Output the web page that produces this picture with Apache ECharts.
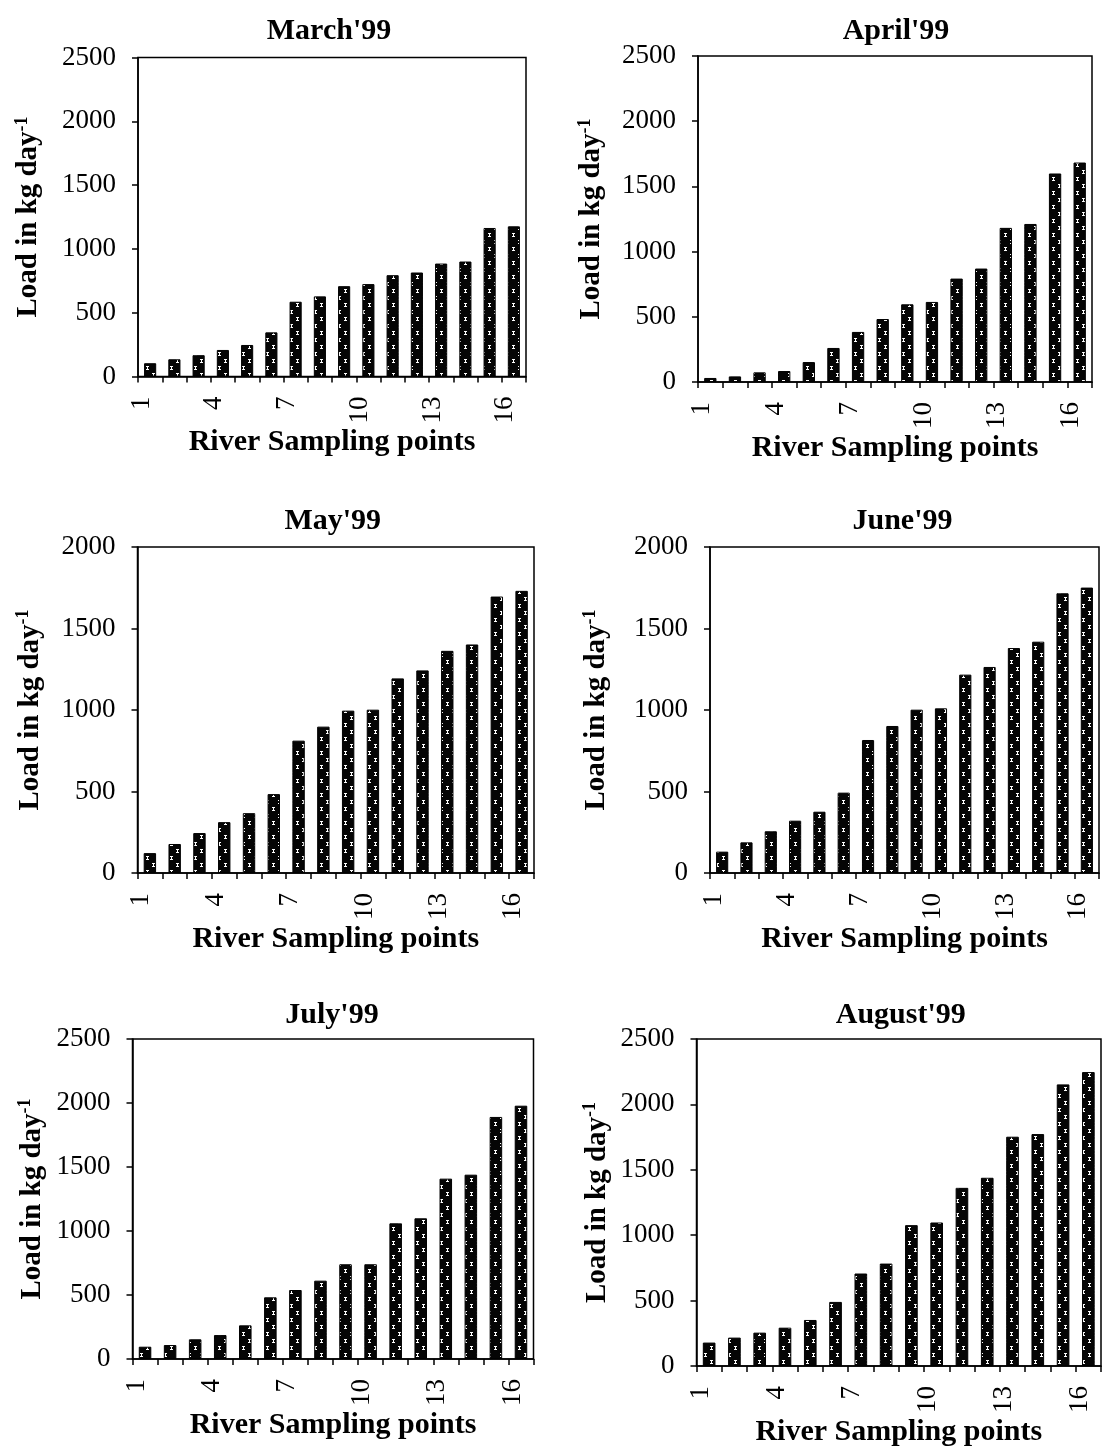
<!DOCTYPE html>
<html><head><meta charset="utf-8">
<script src="https://cdn.jsdelivr.net/npm/echarts@6/dist/echarts.min.js"></script>
<style>html,body{margin:0;padding:0;background:#fff}#c{width:1104px;height:1453px}</style>
</head><body><div id="c"></div>
<script>
// ---- data ----
const categories = ['1','2','3','4','5','6','7','8','9','10','11','12','13','14','15','16'];
const titles = ["March'99","April'99","May'99","June'99","July'99","August'99"];
const march  = [104,135,167,208,247,346,586,628,708,724,794,815,885,901,1164,1177];
const april  = [31,43,74,84,153,261,384,483,596,614,793,870,1182,1212,1599,1683];
const may    = [122,178,245,312,367,484,812,898,996,1002,1194,1243,1363,1402,1696,1731];
const june   = [131,188,256,321,376,493,816,902,1002,1010,1217,1264,1380,1419,1716,1751];
const july   = [96,109,154,187,263,482,539,612,740,740,1060,1099,1409,1440,1891,1979];
const august = [179,217,255,293,352,490,707,783,1077,1097,1362,1439,1753,1773,2153,2247];
const yMax = [2500,2500,2000,2000,2500,2500];
const yInterval = 500;
const xName = 'River Sampling points';
const yNameMain = 'Load in kg day';
const yNameSup = '-1';

// ---- layout ----
const grids = [
  {left:138,   top:57.5, width:388,   height:319},
  {left:698,   top:56,   width:394,   height:326},
  {left:137.5, top:547,  width:396.5, height:326},
  {left:710,   top:547,  width:389,   height:326},
  {left:132.5, top:1039, width:401,   height:320},
  {left:696.5, top:1039, width:404.5, height:327}
];
const titleTop = [11,11,501,501,995,995];
const titleShift = [-8,-4,-8,-7,-6,-3];
const yNameGap = [93,90,91,97,84,83];
const xNameGap = [49,47,46,46,47,46];

const FONT = '"Liberation Serif","Times New Roman",serif';
const seriesData = [march, april, may, june, july, august];

function makePattern(){
  const c = document.createElement('canvas'); c.width = 12; c.height = 14;
  const g = c.getContext('2d');
  g.fillStyle = '#050505'; g.fillRect(0,0,12,14);
  g.fillStyle = '#ffffff';
  g.fillRect(2,2,3,1); g.fillRect(3,2,1,4); g.fillRect(2,5,3,1);
  g.fillRect(8,9,3,1); g.fillRect(9,9,1,4); g.fillRect(8,12,3,1);
  return c;
}
const pattern = makePattern();

const option = {
  animation:false,
  backgroundColor:'#fff',
  title: titles.map((t,i)=>({
    text:t, left: grids[i].left + grids[i].width/2 + titleShift[i], top: titleTop[i], textAlign:'center',
    textStyle:{fontFamily:FONT, fontWeight:'bold', fontSize:30, color:'#000'}
  })),
  grid: grids.map(g=>({left:g.left, top:g.top, width:g.width, height:g.height, show:true,
    borderColor:'#000', borderWidth:1.5, backgroundColor:'transparent', containLabel:false})),
  xAxis: grids.map((g,i)=>({
    type:'category', gridIndex:i, data:categories, boundaryGap:true,
    name:xName, nameLocation:'middle', nameGap:xNameGap[i],
    nameTextStyle:{fontFamily:FONT, fontWeight:'bold', fontSize:30, color:'#000', verticalAlign:'top'},
    axisLine:{lineStyle:{color:'#000', width:1.5}},
    axisTick:{show:true, interval:0, alignWithLabel:false, length:6, lineStyle:{color:'#000', width:1.5}},
    axisLabel:{interval:2, rotate:90, margin:20, fontFamily:FONT, fontSize:27, color:'#000',
      verticalAlign:'bottom', lineHeight:17},
    splitLine:{show:false}
  })),
  yAxis: grids.map((g,i)=>({
    type:'value', gridIndex:i, min:0, max:yMax[i], interval:yInterval,
    name:'{a|'+yNameMain+'}{b|'+yNameSup+'}', nameLocation:'middle', nameGap:yNameGap[i], nameRotate:90,
    nameTextStyle:{rich:{
      a:{fontFamily:FONT, fontWeight:'bold', fontSize:29, color:'#000', lineHeight:32},
      b:{fontFamily:FONT, fontWeight:'bold', fontSize:18, color:'#000', verticalAlign:'top', lineHeight:32}
    }},
    axisLine:{show:true, lineStyle:{color:'#000', width:1.5}},
    axisTick:{show:true, length:6, lineStyle:{color:'#000', width:1.5}},
    axisLabel:{margin:22, fontFamily:FONT, fontSize:27, color:'#000', formatter:(v)=>String(v)},
    splitLine:{show:false}
  })),
  series: seriesData.map((d,i)=>({
    type:'bar', xAxisIndex:i, yAxisIndex:i, data:d, barCategoryGap:'50%',
    itemStyle:{color:{image:pattern, repeat:'repeat'}, borderColor:'#000', borderWidth:1}
  }))
};
const chart = echarts.init(document.getElementById('c'));
chart.setOption(option);
</script></body></html>
